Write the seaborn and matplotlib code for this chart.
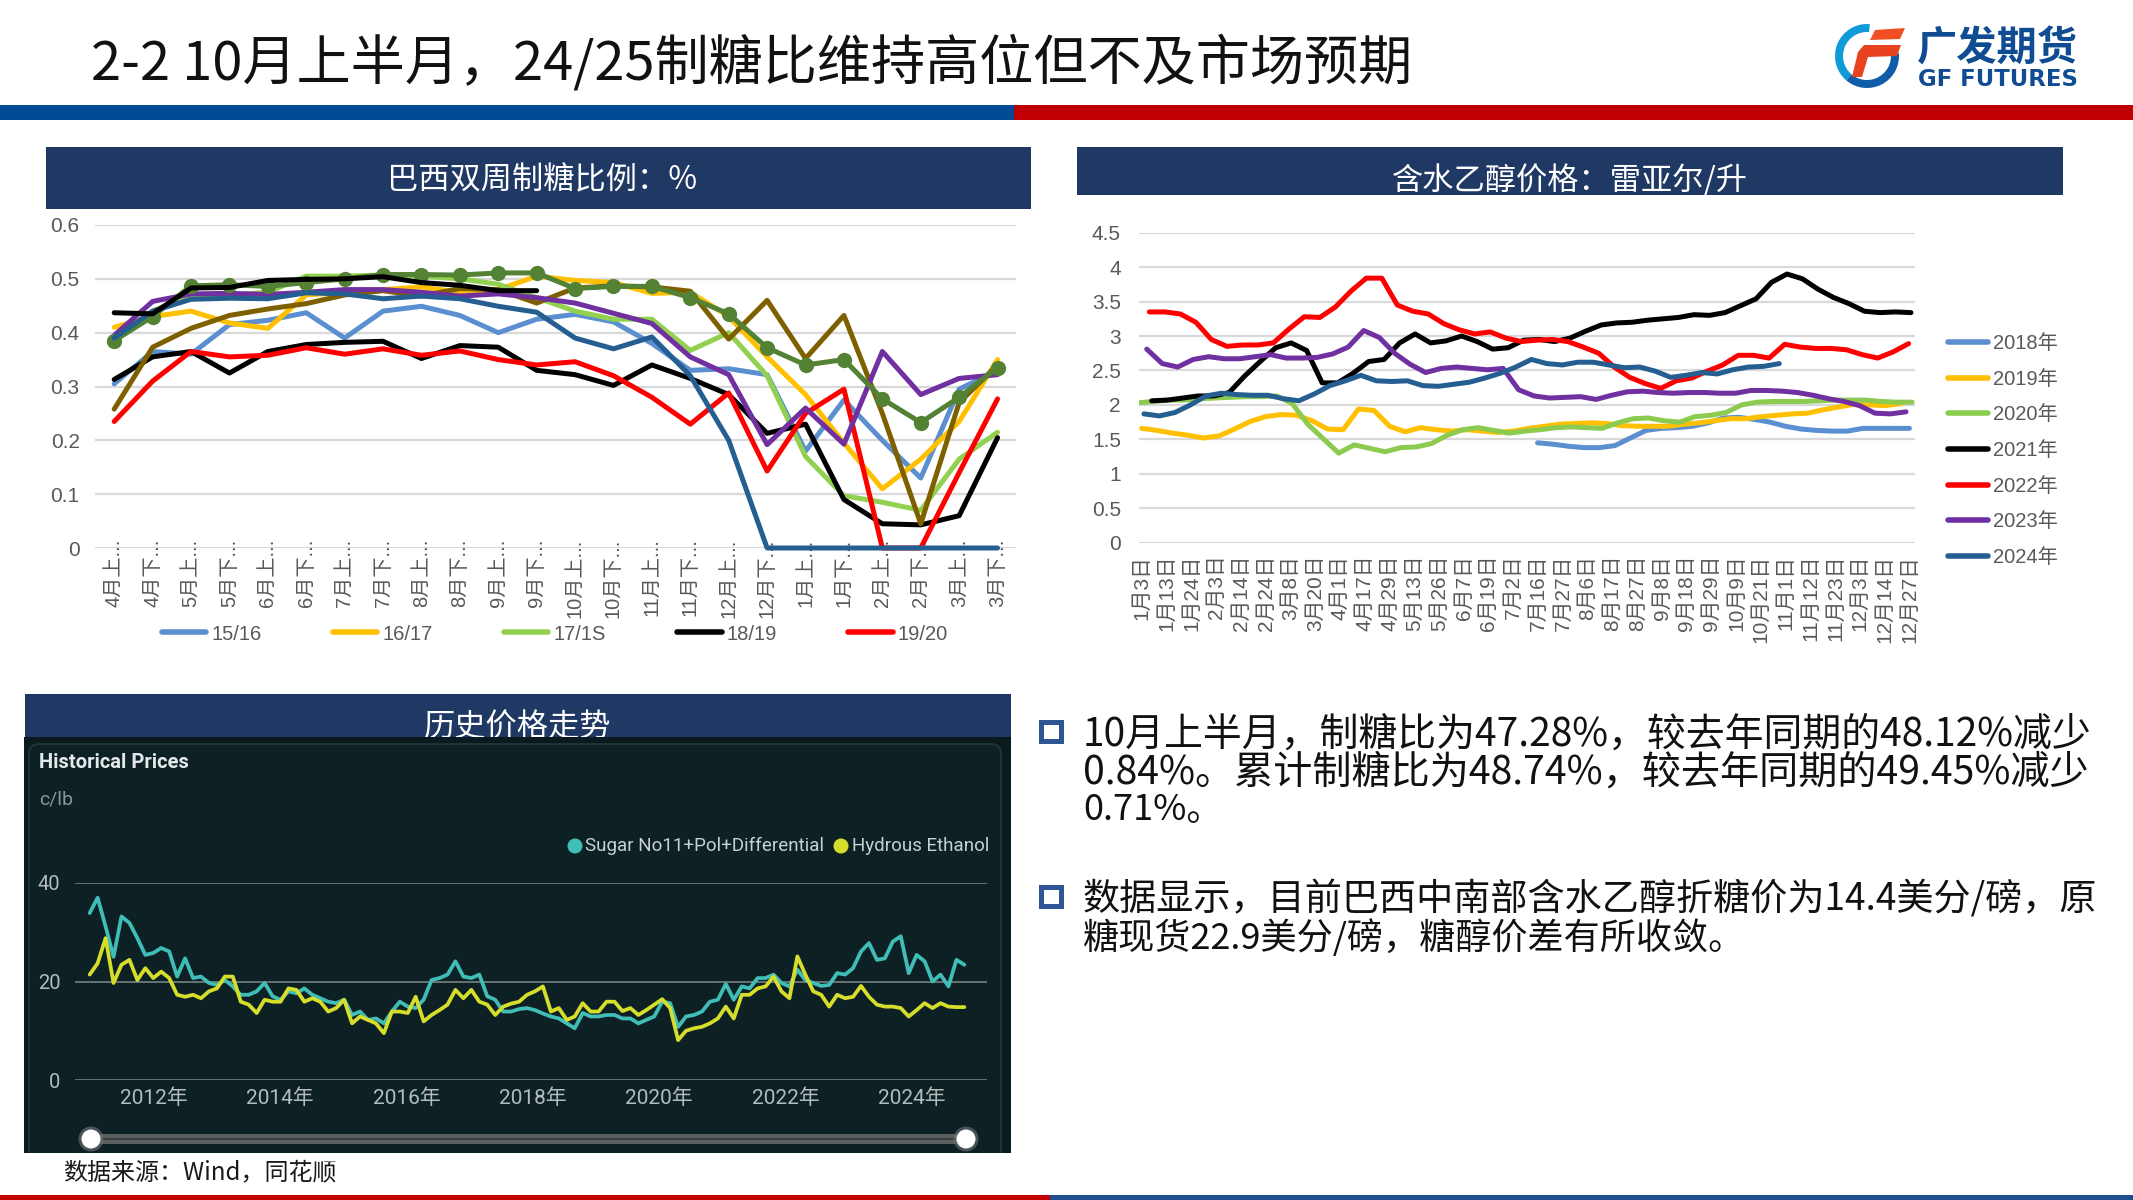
import numpy as np
import pandas as pd
import matplotlib
matplotlib.use("Agg")
import matplotlib.pyplot as plt
from matplotlib.patches import Rectangle, Polygon, Wedge, Circle, FancyBboxPatch
from matplotlib.lines import Line2D
import seaborn as sns

# ---------- data ----------
half_months = ["4月上", "4月下", "5月上", "5月下", "6月上", "6月下", "7月上", "7月下", "8月上", "8月下", "9月上", "9月下",
               "10月上", "10月下", "11月上", "11月下", "12月上", "12月下", "1月上", "1月下", "2月上", "2月下", "3月上", "3月下"]
ratio_1516 = [0.305, 0.365, 0.36, 0.415, 0.423, 0.437, 0.39, 0.44, 0.449, 0.432, 0.40, 0.425, 0.434, 0.42, 0.38, 0.33, 0.333, 0.322, 0.18, 0.275, 0.20, 0.13, 0.295, 0.33]
ratio_1617 = [0.41, 0.43, 0.44, 0.418, 0.408, 0.47, 0.475, 0.48, 0.485, 0.475, 0.48, 0.505, 0.497, 0.493, 0.473, 0.475, 0.43, 0.355, 0.285, 0.195, 0.11, 0.165, 0.235, 0.35]
ratio_1718 = [0.385, 0.44, 0.47, 0.47, 0.475, 0.505, 0.505, 0.507, 0.505, 0.5, 0.49, 0.465, 0.44, 0.425, 0.425, 0.367, 0.40, 0.32, 0.17, 0.097, 0.085, 0.07, 0.165, 0.215]
ratio_1819 = [0.313, 0.355, 0.365, 0.325, 0.365, 0.378, 0.382, 0.384, 0.352, 0.376, 0.373, 0.33, 0.322, 0.302, 0.34, 0.315, 0.285, 0.213, 0.23, 0.09, 0.045, 0.043, 0.06, 0.205]
ratio_1920 = [0.235, 0.31, 0.365, 0.355, 0.358, 0.372, 0.36, 0.37, 0.358, 0.366, 0.35, 0.34, 0.346, 0.32, 0.28, 0.23, 0.288, 0.143, 0.25, 0.295, 0, 0, 0.14, 0.277]
ratio_2021 = [0.258, 0.373, 0.408, 0.432, 0.444, 0.454, 0.47, 0.478, 0.468, 0.482, 0.48, 0.455, 0.483, 0.487, 0.485, 0.477, 0.388, 0.46, 0.352, 0.432, 0.25, 0.045, 0.27, 0.34]
ratio_2122 = [0.395, 0.458, 0.472, 0.473, 0.471, 0.475, 0.48, 0.48, 0.475, 0.468, 0.472, 0.465, 0.455, 0.436, 0.417, 0.355, 0.322, 0.192, 0.26, 0.193, 0.365, 0.285, 0.315, 0.322]
ratio_2223 = [0.385, 0.43, 0.487, 0.489, 0.486, 0.493, 0.5, 0.508, 0.508, 0.507, 0.511, 0.511, 0.482, 0.486, 0.486, 0.465, 0.435, 0.372, 0.34, 0.35, 0.277, 0.233, 0.28, 0.335]
ratio_2324 = [0.39, 0.44, 0.462, 0.464, 0.463, 0.474, 0.472, 0.463, 0.468, 0.463, 0.449, 0.438, 0.39, 0.37, 0.392, 0.32, 0.2, 0, 0, 0, 0, 0, 0, 0]
ratio_2425 = [0.437, 0.435, 0.483, 0.484, 0.497, 0.499, 0.5, 0.504, 0.493, 0.488, 0.478, 0.478]

eth_dates = ["1月3日", "1月13日", "1月24日", "2月3日", "2月14日", "2月24日", "3月8日", "3月20日", "4月1日", "4月17日", "4月29日",
             "5月13日", "5月26日", "6月7日", "6月19日", "7月2日", "7月16日", "7月27日", "8月6日", "8月17日", "8月27日", "9月8日",
             "9月18日", "9月29日", "10月9日", "10月21日", "11月1日", "11月12日", "11月23日", "12月3日", "12月14日", "12月27日"]
eth_2018 = [1.45, 1.43, 1.4, 1.38, 1.38, 1.41, 1.52, 1.63, 1.66, 1.67, 1.69, 1.74, 1.81, 1.82, 1.79, 1.75, 1.69, 1.65, 1.63, 1.62, 1.62, 1.66, 1.66, 1.66, 1.66]
eth_2019 = [1.66, 1.63, 1.59, 1.56, 1.52, 1.55, 1.65, 1.76, 1.83, 1.86, 1.85, 1.77, 1.65, 1.64, 1.94, 1.92, 1.69, 1.61, 1.67, 1.64, 1.62, 1.64, 1.62, 1.6, 1.62,
            1.66, 1.69, 1.72, 1.73, 1.74, 1.73, 1.7, 1.69, 1.69, 1.69, 1.72, 1.74, 1.77, 1.8, 1.8, 1.83, 1.85, 1.87, 1.88, 1.93, 1.97, 2.01, 2.0, 1.99, 2.02]
eth_2020 = [2.03, 2.05, 2.07, 2.07, 2.09, 2.1, 2.11, 2.12, 2.12, 2.13, 2.02, 1.72, 1.51, 1.3, 1.42, 1.37, 1.32, 1.38, 1.39, 1.44, 1.56, 1.64, 1.67, 1.63, 1.59,
            1.62, 1.64, 1.67, 1.68, 1.67, 1.66, 1.74, 1.8, 1.81, 1.77, 1.75, 1.83, 1.85, 1.89, 2.0, 2.04, 2.05, 2.05, 2.05, 2.06, 2.07, 2.07, 2.07, 2.05, 2.04, 2.04]
eth_2021 = [2.06, 2.07, 2.1, 2.13, 2.13, 2.18, 2.42, 2.63, 2.83, 2.9, 2.79, 2.32, 2.32, 2.46, 2.63, 2.66, 2.9, 3.03, 2.9, 2.93, 3.0, 2.92, 2.81, 2.83, 2.94,
            2.95, 2.92, 2.97, 3.07, 3.16, 3.19, 3.2, 3.23, 3.25, 3.27, 3.31, 3.3, 3.34, 3.44, 3.54, 3.78, 3.9, 3.83, 3.68, 3.56, 3.47, 3.36, 3.34, 3.35, 3.34]
eth_2022 = [3.35, 3.35, 3.32, 3.2, 2.95, 2.85, 2.87, 2.87, 2.9, 3.1, 3.28, 3.27, 3.42, 3.65, 3.84, 3.84, 3.45, 3.36, 3.32, 3.18, 3.09, 3.03, 3.06, 2.97, 2.92,
            2.94, 2.95, 2.92, 2.84, 2.75, 2.55, 2.4, 2.31, 2.24, 2.35, 2.39, 2.49, 2.58, 2.72, 2.72, 2.68, 2.88, 2.84, 2.82, 2.82, 2.8, 2.73, 2.68, 2.77, 2.89]
eth_2023 = [2.81, 2.6, 2.55, 2.66, 2.7, 2.67, 2.67, 2.7, 2.73, 2.68, 2.68, 2.69, 2.74, 2.84, 3.08, 2.98, 2.75, 2.59, 2.47, 2.53, 2.55, 2.53, 2.51, 2.53, 2.22,
            2.13, 2.1, 2.11, 2.12, 2.08, 2.14, 2.19, 2.2, 2.18, 2.17, 2.18, 2.18, 2.17, 2.17, 2.21, 2.21, 2.2, 2.18, 2.14, 2.09, 2.05, 1.99, 1.88, 1.87, 1.9]
eth_2024 = [1.87, 1.84, 1.89, 2.0, 2.13, 2.17, 2.15, 2.14, 2.14, 2.09, 2.06, 2.16, 2.28, 2.35, 2.43, 2.35, 2.34, 2.35, 2.28, 2.27, 2.3, 2.33, 2.39, 2.46, 2.55,
            2.66, 2.6, 2.58, 2.62, 2.62, 2.58, 2.54, 2.55, 2.49, 2.4, 2.43, 2.47, 2.45, 2.51, 2.55, 2.56, 2.6]

sugar_hist = [33.9, 37, 31.2, 25, 33.2, 31.9, 28.8, 25.4, 25.8, 26.8, 26.1, 21, 24.7, 20.7, 21, 19.7, 19.3, 20.3, 19, 17.3, 17.3, 18, 19.7, 17, 16.3, 18, 17.6, 18.6, 17.3, 16.6, 15.9, 15.6, 16.3, 13.2, 13.9, 12.2, 12.5, 11.5,
              13.9, 15.9, 14.9, 14.6, 16.3, 20.3, 20.7, 21.4, 24.1, 21, 20.7, 21.4, 17, 16.3, 13.9, 13.9, 14.4, 14.6, 14.2, 13.5, 12.9, 12.5, 11.5, 10.5, 13.6, 12.9, 12.9, 13.2, 13.2, 12.5, 12.5, 11.5, 12.2, 12.9, 15.9, 15.6, 10.8, 12.9,
              13.2, 13.9, 15.9, 16.3, 19.5, 16.3, 19, 18.6, 20.7, 20.7, 21.4, 19.7, 19, 22.4, 20.3, 19.7, 19.1, 19.3, 21.7, 21.4, 22.7, 26.1, 27.8, 24.4, 24.7, 28.1, 29.2, 21.7, 25.4, 24.1, 20, 21.4, 19, 24.4, 23.4]
ethanol_hist = [21.4, 23.7, 28.8, 19.7, 23.4, 24.4, 20.3, 22.7, 20.7, 22, 20.7, 17.3, 16.9, 17.3, 16.6, 18, 18.6, 21, 21, 15.9, 15.3, 13.6, 16.3, 15.9, 15.9, 18.6, 18.3, 15.9, 16.6, 15.9, 13.9, 14.6, 16.3, 11.5, 12.9, 12.2, 11.5, 9.5,
                13.9, 13.9, 13.6, 16.9, 11.9, 13.2, 14.2, 15.3, 18.3, 16.6, 18.3, 15.9, 15.3, 13.2, 14.9, 15.5, 15.9, 17.3, 18, 19, 13.9, 14.6, 12.2, 12.9, 15.6, 13.9, 13.9, 15.9, 15.9, 14, 14.6, 13.2, 14.2, 15.3, 16.4, 14.6, 8.1, 10,
                10.5, 10.8, 11.5, 12.5, 14.9, 12.5, 17.3, 17.3, 18.6, 19, 21, 18, 16.6, 25.1, 21.4, 18, 17.3, 14.9, 17.3, 16.6, 16.9, 19.1, 16.9, 15.3, 14.9, 14.9, 14.6, 12.9, 14.2, 15.6, 14.6, 15.6, 14.9, 14.8, 14.8]
hist_tick_years = [2012, 2014, 2016, 2018, 2020, 2022, 2024]

title = "2-2 10月上半月，24/25制糖比维持高位但不及市场预期"
bullet1 = ["10月上半月，制糖比为47.28%，较去年同期的48.12%减少", "0.84%。累计制糖比为48.74%，较去年同期的49.45%减少", "0.71%。"]
bullet2 = ["数据显示，目前巴西中南部含水乙醇折糖价为14.4美分/磅，原", "糖现货22.9美分/磅，糖醇价差有所收敛。"]

# ---------- style ----------
sns.set_theme(style="white")
CJK = ["Noto Sans CJK SC", "DejaVu Sans"]
LAT = ["Liberation Sans", "Noto Sans CJK SC", "DejaVu Sans"]
plt.rcParams["font.family"] = CJK
W, H = 2133, 1200
fig = plt.figure(figsize=(W / 100, H / 100), dpi=100, facecolor="white")

bg = fig.add_axes([0, 0, 1, 1], zorder=0)
bg.set_xlim(0, W); bg.set_ylim(H, 0); bg.axis("off")


def rect(x0, y0, x1, y1, color, z=1):
    bg.add_patch(Rectangle((x0, y0), x1 - x0, y1 - y0, facecolor=color, edgecolor="none", zorder=z))


def txt(x, y, s, size, color="black", ha="left", va="center", z=5, family=CJK, **kw):
    return bg.text(x, y, s, fontsize=size, color=color, ha=ha, va=va, zorder=z, family=family, **kw)


def box(x0, y0, x1, y1):
    return fig.add_axes([x0 / W, 1 - y1 / H, (x1 - x0) / W, (y1 - y0) / H], zorder=2, facecolor="none")


NAVY = "#1F3864"
GRAY = "#595959"
GRID = "#D9D9D9"

# slide furniture
txt(91, 63, title, 39, color="#111111")
rect(0, 105, 1014, 120, "#004A96")
rect(1014, 105, W, 120, "#C00000")
rect(0, 1195, 1050, 1200, "#C00000")
rect(1050, 1195, W, 1200, "#1F4E8C")

rect(46, 147, 1031, 209, NAVY)
txt(542, 180, "巴西双周制糖比例：%", 22.5, color="white", ha="center")
rect(1077, 147, 2063, 195, NAVY)
txt(1570, 181, "含水乙醇价格：雷亚尔/升", 22.5, color="white", ha="center")
rect(25, 694, 1011, 737, NAVY)
txt(518, 728, "历史价格走势", 22.5, color="white", ha="center", z=2)

# logo
cx, cy, r = 1867, 56, 32
bg.add_patch(Wedge((cx, cy), r, 130, 275, width=8, facecolor="#0F9AD8", edgecolor="none", zorder=3))
bg.add_patch(Wedge((cx, cy), r, -5, 130, width=8, facecolor="#0F5CA8", edgecolor="none", zorder=3))
bg.add_patch(Polygon([[1875, 30], [1905, 28], [1900, 39], [1870, 40]], facecolor="#F04E23", edgecolor="none", zorder=4))
bg.add_patch(Polygon([[1864, 45], [1901, 45], [1897, 56], [1868, 57], [1862, 77], [1852, 77], [1858, 52]],
                     facecolor="#E8431E", edgecolor="none", zorder=4))
txt(1917, 49, "广发期货", 29, color="#0F4C92", weight="bold")
txt(1918, 79, "GF FUTURES", 16.4, color="#0F4C92", weight="bold", family=["DejaVu Sans"])

# ---------- left chart ----------
ax1 = box(95, 225, 1016, 548)
s1 = [("15/16", ratio_1516, "#5B8FD0", None), ("16/17", ratio_1617, "#FFC000", None),
      ("17/1S", ratio_1718, "#92D050", None), ("18/19", ratio_1819, "#000000", None),
      ("19/20", ratio_1920, "#FF0000", None), ("20/21", ratio_2021, "#7F6000", None),
      ("21/22", ratio_2122, "#7030A0", None), ("22/23", ratio_2223, "#548235", "o"),
      ("23/24", ratio_2324, "#255E91", None), ("24/25", ratio_2425, "#000000", None)]
for name, vals, col, mk in s1:
    df = pd.DataFrame({"x": np.arange(len(vals)), "y": vals})
    if mk:
        sns.lineplot(data=df, x="x", y="y", ax=ax1, color=col, linewidth=3.6, errorbar=None, marker=mk,
                     markersize=11, markeredgewidth=0, clip_on=False)
    else:
        sns.lineplot(data=df, x="x", y="y", ax=ax1, color=col, linewidth=3.6, errorbar=None, clip_on=False)
ax1.set_xlim(-0.5, 23.48)
ax1.set_ylim(0, 0.6)
ax1.set_yticks([0, 0.1, 0.2, 0.3, 0.4, 0.5, 0.6])
ax1.set_yticklabels(["0", "0.1", "0.2", "0.3", "0.4", "0.5", "0.6"], family=LAT, fontsize=15, color=GRAY)
ax1.set_xticks(np.arange(24))
ax1.set_xticklabels([h + "..." for h in half_months], rotation=90, fontsize=14.5, color=GRAY, ha="center", va="top", family=LAT)
ax1.tick_params(axis="x", length=0, pad=-7)
ax1.tick_params(axis="y", length=0, pad=11)
ax1.set_xlabel(""); ax1.set_ylabel("")
ax1.grid(axis="y", color=GRID, lw=1.6); ax1.set_axisbelow(True)
sns.despine(ax=ax1, left=True, bottom=True)
h1 = [Line2D([0], [0], color=c, lw=4, solid_capstyle="round") for _, _, c, _ in s1[:5]]
ax1.legend(h1, [n for n, *_ in s1[:5]], ncol=5, loc="center", bbox_to_anchor=((555 - 95) / 921, (548 - 634) / 323),
           frameon=False, labelcolor=GRAY, handlelength=2.2, handletextpad=0.25, columnspacing=3.55,
           prop={"family": LAT, "size": 14.5}, borderpad=0)

# ---------- right chart ----------
ax2 = box(1139, 232.7, 1915, 542.7)
s2 = [("2018年", eth_2018, "#5B8FD0", 25.44), ("2019年", eth_2019, "#FFC000", -0.11),
      ("2020年", eth_2020, "#8CCB50", -0.39), ("2021年", eth_2021, "#000000", 0.54),
      ("2022年", eth_2022, "#FF0000", 0.39), ("2023年", eth_2023, "#7030A0", 0.22),
      ("2024年", eth_2024, "#255E91", 0.04)]
for name, vals, col, off in s2:
    df = pd.DataFrame({"x": np.arange(len(vals)) + off, "y": vals})
    sns.lineplot(data=df, x="x", y="y", ax=ax2, color=col, linewidth=3.6, errorbar=None)
ax2.set_xlim(-0.28, 49.8)
ax2.set_ylim(0, 4.5)
ax2.set_yticks(np.arange(0, 4.6, 0.5))
ax2.set_yticklabels(["0", "0.5", "1", "1.5", "2", "2.5", "3", "3.5", "4", "4.5"], family=LAT, fontsize=15, color=GRAY)
ax2.set_xticks(np.linspace(-0.08, 49.46, len(eth_dates)))
ax2.set_xticklabels(eth_dates, rotation=90, fontsize=15, color=GRAY, ha="center", va="top", family=LAT)
ax2.tick_params(axis="x", length=0, pad=8.5)
ax2.tick_params(axis="y", length=0, pad=13)
ax2.set_xlabel(""); ax2.set_ylabel("")
ax2.grid(axis="y", color=GRID, lw=1.6); ax2.set_axisbelow(True)
sns.despine(ax=ax2, left=True, bottom=True)
h2 = [Line2D([0], [0], color=c, lw=4, solid_capstyle="round") for _, _, c, _ in s2]
ax2.legend(h2, [n for n, *_ in s2], loc="center left", bbox_to_anchor=((1948 - 1139) / 776, (542.7 - 450.5) / 310),
           frameon=False, labelcolor=GRAY, handlelength=2.0, handletextpad=0.25, labelspacing=0.83,
           prop={"family": LAT, "size": 14.5}, borderpad=0, borderaxespad=0)

# ---------- history panel ----------
rect(24, 737, 1011, 1153, "#0A1A1E", z=3)
bg.add_patch(FancyBboxPatch((29, 744), 972, 420, boxstyle="round,pad=0,rounding_size=10",
                            facecolor="#0D2125", edgecolor="#1F3236", lw=1.5, zorder=3))
rect(0, 1153, 1030, 1195, "white", z=3.5)
rect(0, 1195, 1050, 1200, "#C00000", z=3.6)
ax3 = box(74.5, 883, 987, 1080)
hist_step = 7.95 / 63.2
hist = pd.DataFrame({"x": np.r_[2010.99 + np.arange(len(sugar_hist)) * hist_step,
                                2010.99 + np.arange(len(ethanol_hist)) * hist_step],
                     "y": sugar_hist + ethanol_hist,
                     "s": ["Sugar"] * len(sugar_hist) + ["Ethanol"] * len(ethanol_hist)})
TEAL, YEL = "#3FBDB6", "#D6DE2B"
sns.lineplot(data=hist, x="x", y="y", hue="s", palette={"Sugar": TEAL, "Ethanol": YEL}, linewidth=2.7,
             errorbar=None, legend=False, ax=ax3)
ax3.set_xlim(2010.75, 2025.185)
ax3.set_ylim(0, 40)
ax3.set_yticks([0, 20, 40])
ax3.set_yticklabels(["0", "20", "40"], family=["Roboto"], fontsize=14.5, color="#B4BCBC")
ax3.set_xticks(hist_tick_years)
ax3.set_xticklabels([f"{y}年" for y in hist_tick_years], family=["Roboto", "Noto Sans CJK SC"], fontsize=15, color="#B4BCBC")
ax3.tick_params(axis="x", length=0, pad=6)
ax3.tick_params(axis="y", length=0, pad=10)
ax3.set_xlabel(""); ax3.set_ylabel("")
ax3.grid(axis="y", color="#667476", lw=1.4); ax3.set_axisbelow(True)
sns.despine(ax=ax3, left=True, bottom=True)

txt(39, 763, "Historical Prices", 14.5, color="#E4E8E8", weight="bold", family=["Roboto"])
txt(39, 800, "c/lb", 14, color="#88979A", family=["Roboto"])
bg.add_patch(Circle((575, 846), 7.5, facecolor=TEAL, edgecolor="none", zorder=5))
txt(585, 846, "Sugar No11+Pol+Differential", 13.5, color="#C8D0D0", family=["Roboto"])
bg.add_patch(Circle((841, 846), 7.5, facecolor=YEL, edgecolor="none", zorder=5))
txt(852, 846, "Hydrous Ethanol", 13.5, color="#C8D0D0", family=["Roboto"])
rect(92, 1134, 966, 1144, "#5A5F60", z=5)
rect(92, 1138, 966, 1140, "#3A4042", z=5.1)
for hx in (91, 966):
    bg.add_patch(Circle((hx, 1139), 12.5, facecolor="#6E7678", edgecolor="none", alpha=0.6, zorder=5.2))
    bg.add_patch(Circle((hx, 1139), 9.5, facecolor="white", edgecolor="none", zorder=5.3))

txt(63, 1172, "数据来源：Wind，同花顺", 17.3, color="#1a1a1a", z=6)

# ---------- bullets ----------
for y0 in (719, 884):
    bg.add_patch(Rectangle((1040.5, y0 + 2.5), 20, 19, facecolor="white", edgecolor="#2F5597", lw=3.6, zorder=4))
for y, s, fs in zip((735, 773, 810), bullet1, (28, 28.2, 26)):
    txt(1083, y, s, fs, color="#111111")
for y, s, fs in zip((900, 938), bullet2, (26.7, 26)):
    txt(1083, y, s, fs, color="#111111")

fig.savefig("out.png", dpi=100, facecolor="white")
